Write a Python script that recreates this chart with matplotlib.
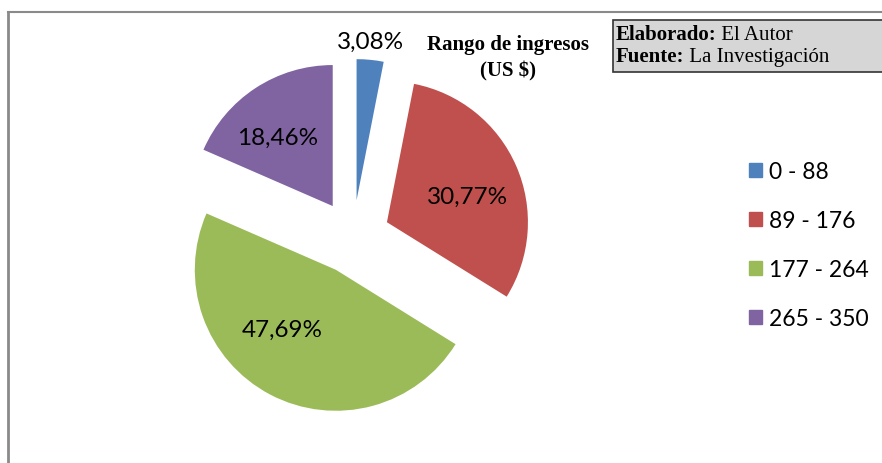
import matplotlib
matplotlib.use("Agg")
import matplotlib.pyplot as plt
from matplotlib.patches import Patch, Rectangle
from matplotlib.lines import Line2D

categories = ["0 - 88", "89 - 176", "177 - 264", "265 - 350"]
values = [3.08, 30.77, 47.69, 18.46]
pct_labels = ["3,08%", "30,77%", "47,69%", "18,46%"]
colors = ["#4F81BD", "#C0504D", "#9BBB59", "#8064A2"]

W, H = 882, 464
fig = plt.figure(figsize=(W / 100, H / 100), dpi=100)
ax = fig.add_axes([0, 0, 1, 1])
ax.set_xlim(0, W)
ax.set_ylim(0, H)
ax.set_aspect("equal")
ax.axis("off")

R = 141
cx, cy = 353, H - 238
wedges, texts = ax.pie(values, colors=colors, startangle=90, counterclock=False,
                       radius=R, center=(cx, cy), explode=[37] * 4,
                       labels=pct_labels, labeldistance=0.6,
                       textprops=dict(family="Lato", fontsize=17.5, color="black",
                                      ha="center", va="center"))
ax.set_xlim(0, W)
ax.set_ylim(0, H)
# label placement as in the reference
label_pos = [(370, 42), (468, 197), (282, 330), (278, 138)]
for t, (px, py) in zip(texts, label_pos):
    t.set_position((px, H - py))

# frame lines
ax.add_line(Line2D([8, W], [H - 13, H - 13], color="#8a8a8a", lw=1.5))
ax.add_line(Line2D([8, 8], [0, H - 13], color="#8a8a8a", lw=2))

# title
ax.text(508, H - 45, "Rango de ingresos", family="Liberation Serif", fontweight="bold",
        fontsize=15, ha="center", va="center")
ax.text(508, H - 71, "(US $)", family="Liberation Serif", fontweight="bold",
        fontsize=15, ha="center", va="center")

# source box
ax.add_patch(Rectangle((613, H - 73), 280, 52, facecolor="#d6d6d6",
                       edgecolor="#333333", lw=1.2))
renderer = fig.canvas.get_renderer()
for yy, b, n in [(40, "Elaborado:", " El Autor"), (62, "Fuente:", " La Investigación")]:
    t = ax.text(616, H - yy, b, family="Liberation Serif", fontweight="bold",
                fontsize=15, ha="left", va="baseline")
    bb = t.get_window_extent(renderer=renderer)
    ax.text(bb.x1 - 1, H - yy, n, family="Liberation Serif", fontsize=15,
            ha="left", va="baseline")

# legend
handles = [Patch(facecolor=c, edgecolor=c) for c in colors]
leg = ax.legend(handles, categories, loc="upper left", bbox_to_anchor=(740 / W, 1 - 153 / H),
                frameon=False, prop=dict(family="Lato", size=16.5),
                handlelength=0.55, handleheight=0.55, handletextpad=0.3,
                labelspacing=1.22, borderaxespad=0)

fig.savefig("out.png", dpi=100)
